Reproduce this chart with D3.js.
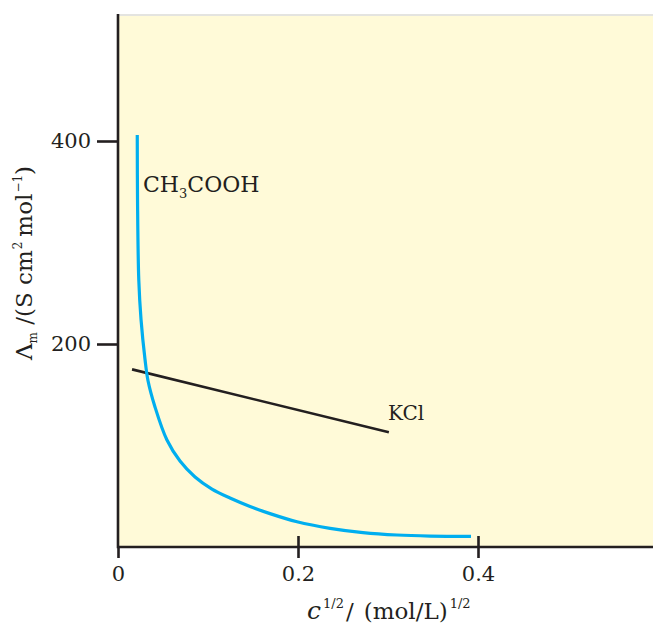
<!DOCTYPE html>
<html>
<head>
<meta charset="utf-8">
<script src="https://cdn.jsdelivr.net/npm/d3@7"></script>
<style>
  html, body { margin: 0; padding: 0; background: #ffffff; }
  svg { display: block; }
  text { font-family: "DejaVu Serif", "Liberation Serif", serif; fill: #231f20; }
</style>
</head>
<body>
<svg id="chart" width="653" height="627"></svg>
<script>
// ---- data ----
const xTicks = [0, 0.2, 0.4];
const xTickLabels = ["0", "0.2", "0.4"];
const yTicks = [200, 400];
const yTickLabels = ["200", "400"];

// CH3COOH (weak electrolyte)
const aceticX = [0.0214, 0.0217, 0.0231, 0.0256, 0.030, 0.0333, 0.0411, 0.0544, 0.0689, 0.0856, 0.1044, 0.1244, 0.1467, 0.1689, 0.1989, 0.2356, 0.2722, 0.31, 0.3467, 0.3922];
const aceticY = [406, 342, 263, 224, 185, 164, 138, 105.4, 84.7, 69, 57.1, 48.3, 40, 32.9, 24.9, 18.4, 14.2, 11.8, 10.8, 10.5];

// KCl (strong electrolyte)
const kclX = [0.0156, 0.301];
const kclY = [175, 113];

const seriesNames = ["CH3COOH", "KCl"];

// ---- layout ----
const W = 653, H = 627;
const svg = d3.select("#chart");
const x = d3.scaleLinear().domain([0, 0.4]).range([118, 478]);
const y = d3.scaleLinear().domain([0, 400]).range([547, 141]);
const xMax = x.invert(W);
const yMax = y.invert(14);

const ink = "#231f20";

// plot background
svg.append("rect")
  .attr("x", x(0)).attr("y", y(yMax))
  .attr("width", x(xMax) - x(0)).attr("height", y(0) - y(yMax))
  .attr("fill", "#fffad8");
svg.append("line")
  .attr("x1", x(0)).attr("x2", x(xMax))
  .attr("y1", y(yMax) + 1).attr("y2", y(yMax) + 1)
  .attr("stroke", "#e4e4e0").attr("stroke-width", 2);

// ---- curves ----
const acetic = aceticX.map((v, i) => [v, aceticY[i]]);
const kcl = kclX.map((v, i) => [v, kclY[i]]);

const line = d3.line().x(d => x(d[0])).y(d => y(d[1])).curve(d3.curveCatmullRom.alpha(0.5));

svg.append("path").datum(kcl)
  .attr("d", d3.line().x(d => x(d[0])).y(d => y(d[1])))
  .attr("fill", "none").attr("stroke", ink).attr("stroke-width", 2.6);

svg.append("path").datum(acetic)
  .attr("d", line)
  .attr("fill", "none").attr("stroke", "#00aeef").attr("stroke-width", 3.2)
  .attr("stroke-linecap", "butt");

// ---- axes ----
const xAxis = d3.axisBottom(x).tickValues(xTicks)
  .tickFormat((d, i) => xTickLabels[i]).tickSizeInner(11).tickSizeOuter(0).tickPadding(8);
const gx = svg.append("g").attr("transform", `translate(0,${y(0)})`).call(xAxis);
gx.select(".domain").remove();
gx.selectAll(".tick line").attr("y1", d => d === 0 ? 0 : -11).attr("y2", 11)
  .attr("stroke", ink).attr("stroke-width", 2.6);
gx.selectAll(".tick text").attr("font-size", 21).attr("font-family", "DejaVu Serif")
  .attr("fill", ink).attr("dy", "0.71em");
gx.append("line").attr("x1", x(0)).attr("x2", x(xMax)).attr("y1", 0).attr("y2", 0)
  .attr("stroke", ink).attr("stroke-width", 2.6);

const yAxis = d3.axisLeft(y).tickValues(yTicks)
  .tickFormat((d, i) => yTickLabels[i]).tickSizeInner(21).tickSizeOuter(0).tickPadding(6);
const gy = svg.append("g").attr("transform", `translate(${x(0)},0)`).call(yAxis);
gy.select(".domain").remove();
gy.selectAll(".tick line").attr("stroke", ink).attr("stroke-width", 2.6);
gy.selectAll(".tick text").attr("font-size", 21).attr("font-family", "DejaVu Serif")
  .attr("fill", ink);
gy.append("line").attr("x1", 0).attr("x2", 0).attr("y1", y(yMax)).attr("y2", y(0) + 1.3)
  .attr("stroke", ink).attr("stroke-width", 2.6);

// ---- series labels ----
const lab1 = svg.append("text").attr("x", x(0.0278)).attr("y", y(350)).attr("font-size", 22);
lab1.append("tspan").text("CH");
lab1.append("tspan").text("3").attr("font-size", 13).attr("dy", 6);
lab1.append("tspan").text("COOH").attr("dy", -6);

svg.append("text").attr("x", x(0.30)).attr("y", y(125)).attr("font-size", 20).text("KCl");

// ---- axis titles ----
const xt = svg.append("text").attr("x", 307).attr("y", 619).attr("font-size", 23);
xt.append("tspan").text("c").attr("font-style", "italic").attr("font-size", 25);
xt.append("tspan").text("1/2").attr("font-size", 13).attr("dy", -11).attr("dx", 2);
xt.append("tspan").text("/").attr("dy", 11).attr("dx", 2);
xt.append("tspan").text("(mol/L)").attr("dx", 10);
xt.append("tspan").text("1/2").attr("font-size", 13).attr("dy", -11).attr("dx", 2);

const yt = svg.append("text").attr("transform", "translate(32,263) rotate(-90)")
  .attr("text-anchor", "middle").attr("font-size", 23);
yt.append("tspan").text("Λ");
yt.append("tspan").text("m").attr("font-size", 12).attr("dy", 5);
yt.append("tspan").text(" /(S cm").attr("dy", -5);
yt.append("tspan").text("2").attr("font-size", 12).attr("dy", -10).attr("dx", 1);
yt.append("tspan").text("mol").attr("dy", 10).attr("dx", 5);
yt.append("tspan").text("−1").attr("font-size", 12).attr("dy", -10).attr("dx", 1);
yt.append("tspan").text(")").attr("dy", 10);
</script>
</body>
</html>
